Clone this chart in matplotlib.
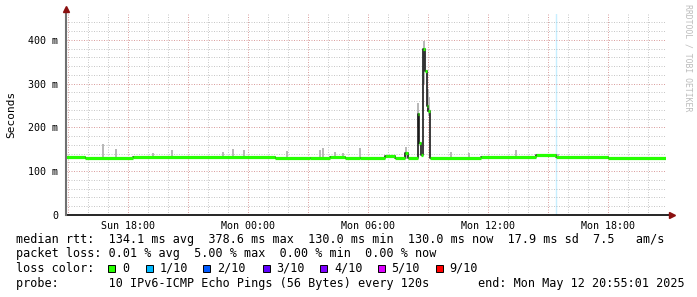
import matplotlib
matplotlib.use("Agg")
import matplotlib.pyplot as plt
import matplotlib.dates as mdates
from matplotlib.patches import Rectangle
from matplotlib.ticker import FuncFormatter, MultipleLocator
import pandas as pd

# ── data ──────────────────────────────────────────────────────────────────────
t_start = "2025-05-11 14:55:01"
t_end   = "2025-05-12 20:55:01"

# median rtt (ms), step segments starting at these times
med_time = ["2025-05-11 14:55", "2025-05-11 15:52", "2025-05-11 18:16",
            "2025-05-12 01:22", "2025-05-12 03:07", "2025-05-12 04:07",
            "2025-05-12 04:52", "2025-05-12 05:37", "2025-05-12 06:52",
            "2025-05-12 07:22", "2025-05-12 07:52", "2025-05-12 08:01",
            "2025-05-12 08:31", "2025-05-12 08:35", "2025-05-12 08:40",
            "2025-05-12 08:47", "2025-05-12 08:53", "2025-05-12 08:58",
            "2025-05-12 09:02", "2025-05-12 09:07", "2025-05-12 11:40",
            "2025-05-12 14:25", "2025-05-12 15:25", "2025-05-12 18:01",
            "2025-05-12 20:55"]
med_ms   = [132, 130, 132, 131, 130, 132, 130, 131, 134, 131, 141, 131,
            230, 164, 136, 380, 328, 250, 238, 131, 133, 136, 132, 130, 130]

# smoke (spread of the 10 pings), low / high in ms
smoke_time = ["2025-05-11 16:46", "2025-05-11 17:25", "2025-05-11 19:16",
              "2025-05-11 20:13", "2025-05-11 22:46", "2025-05-11 23:16",
              "2025-05-11 23:49", "2025-05-12 01:58", "2025-05-12 03:37",
              "2025-05-12 03:46", "2025-05-12 04:22", "2025-05-12 04:46",
              "2025-05-12 05:37", "2025-05-12 07:55", "2025-05-12 08:31",
              "2025-05-12 08:48", "2025-05-12 08:50", "2025-05-12 09:00",
              "2025-05-12 09:03", "2025-05-12 10:10", "2025-05-12 11:04",
              "2025-05-12 13:25", "2025-05-12 15:31"]
smoke_lo = [129, 129, 129, 129, 129, 129, 129, 129, 129, 129, 129, 129,
            129, 129, 200, 330, 300, 236, 225, 129, 129, 129, 129]
smoke_hi = [162, 151, 142, 149, 143, 151, 149, 146, 148, 154, 144, 142,
            154, 155, 256, 398, 390, 288, 270, 144, 142, 148, 139]

loss_time = "2025-05-12 15:25"

yticks      = [0, 100, 200, 300, 400]
loss_labels = ["0", "1/10", "2/10", "3/10", "4/10", "5/10", "9/10"]
loss_colors = ["#26ff00", "#00b8ff", "#0059ff", "#5e00ff", "#7e00ff", "#dd00ff", "#ff0000"]

stats_rtt  = "median rtt:  134.1 ms avg  378.6 ms max  130.0 ms min  130.0 ms now  17.9 ms sd  7.5   am/s"
stats_loss = "packet loss: 0.01 % avg  5.00 % max  0.00 % min  0.00 % now"
probe_txt  = "probe:       10 IPv6-ICMP Echo Pings (56 Bytes) every 120s"
end_txt    = "end: Mon May 12 20:55:01 2025"

# ── figure ────────────────────────────────────────────────────────────────────
W, H = 697, 297
MONO = "DejaVu Sans Mono"
fig = plt.figure(figsize=(W / 100, H / 100), dpi=100)
fig.patch.set_facecolor("white")
ax = fig.add_axes([66 / W, (H - 215) / H, 600 / W, 201 / H])

t0, t1 = pd.Timestamp(t_start), pd.Timestamp(t_end)
ax.set_xlim(t0, t1)
ax.set_ylim(0, 459)

# grid: minor hourly / 20 ms, major every 3 h / 100 ms
ax.xaxis.set_major_locator(mdates.HourLocator(byhour=range(0, 24, 3)))
ax.xaxis.set_minor_locator(mdates.HourLocator())
ax.xaxis.set_major_formatter(FuncFormatter(
    lambda v, p: mdates.num2date(v).strftime("%a %H:%M") if mdates.num2date(v).hour % 6 == 0 else ""))
ax.set_yticks(yticks)
ax.yaxis.set_minor_locator(MultipleLocator(20))
ax.yaxis.set_major_formatter(FuncFormatter(lambda v, p: "0" if v == 0 else f"{v:.0f} m"))

ax.grid(True, which="minor", color="#c8c8c8", linewidth=0.72, linestyle=(0, (1, 1.5)))
ax.grid(True, which="major", color="#dba0a0", linewidth=0.72, linestyle=(0, (1, 1.5)))
ax.set_axisbelow(True)
ax.tick_params(which="both", length=0)
ax.tick_params(axis="y", pad=5.5, labelsize=7.2)
ax.tick_params(axis="x", pad=4, labelsize=7.2)
for lab in ax.get_xticklabels() + ax.get_yticklabels():
    lab.set_family(MONO)
for s in ax.spines.values():
    s.set_visible(False)

# loss marker line
ax.axvline(pd.Timestamp(loss_time), color="#00b8ff", alpha=0.22, linewidth=1)

# smoke
st = pd.to_datetime(smoke_time)
ax.vlines(st, smoke_lo, smoke_hi, color="#b8b8b8", linewidth=1.4, zorder=3)

# median: black step line with green segments on top
mt = pd.to_datetime(med_time)
ax.step(mt, med_ms, where="post", color="#1a1a1a", linewidth=1.2, zorder=4)
ax.hlines(med_ms[:-1], mt[:-1], mt[1:], color=loss_colors[0], linewidth=2.3, zorder=5)

# axes lines with arrows
ax.plot([0, 1.01], [0, 0], color="black", linewidth=1.2, transform=ax.transAxes, clip_on=False, zorder=6)
ax.plot([0, 0], [0, 1.025], color="#707070", linewidth=1.5, transform=ax.transAxes, clip_on=False, zorder=6)
ax.plot(1.01, 0, marker=">", color="#8b1010", markersize=4, transform=ax.transAxes, clip_on=False, zorder=7)
ax.plot(0, 1.025, marker="^", color="#8b1010", markersize=4, transform=ax.transAxes, clip_on=False, zorder=7)

# axis title and watermark
fig.text(11 / W, 1 - 114 / H, "Seconds", rotation=90, ha="center", va="center",
         family=MONO, fontsize=8)
fig.text(688 / W, 1 - 4 / H, "RRDTOOL / TOBI OETIKER", rotation=270, ha="center", va="top",
         family=MONO, fontsize=5.9, color="#bcbcbc")

# ── legend block ──────────────────────────────────────────────────────────────
FS = 8.5
def row(x, y, s):
    fig.text(x / W, 1 - y / H, s, ha="left", va="center", family=MONO, fontsize=FS)

row(16, 240, stats_rtt)
row(16, 254, stats_loss)
row(16, 268, "loss color:")
box_x = [108, 146, 203, 262.5, 320, 377.5, 435.5]
for bx, lab, col in zip(box_x, loss_labels, loss_colors):
    fig.add_artist(Rectangle((bx / W, 1 - 271.5 / H), 7 / W, 7 / H, transform=fig.transFigure,
                             facecolor=col, edgecolor="black", linewidth=0.7))
    row(bx + 14, 268, lab)
row(16, 283, probe_txt)
row(478, 283, end_txt)

fig.savefig("out.png", dpi=100, facecolor="white")
